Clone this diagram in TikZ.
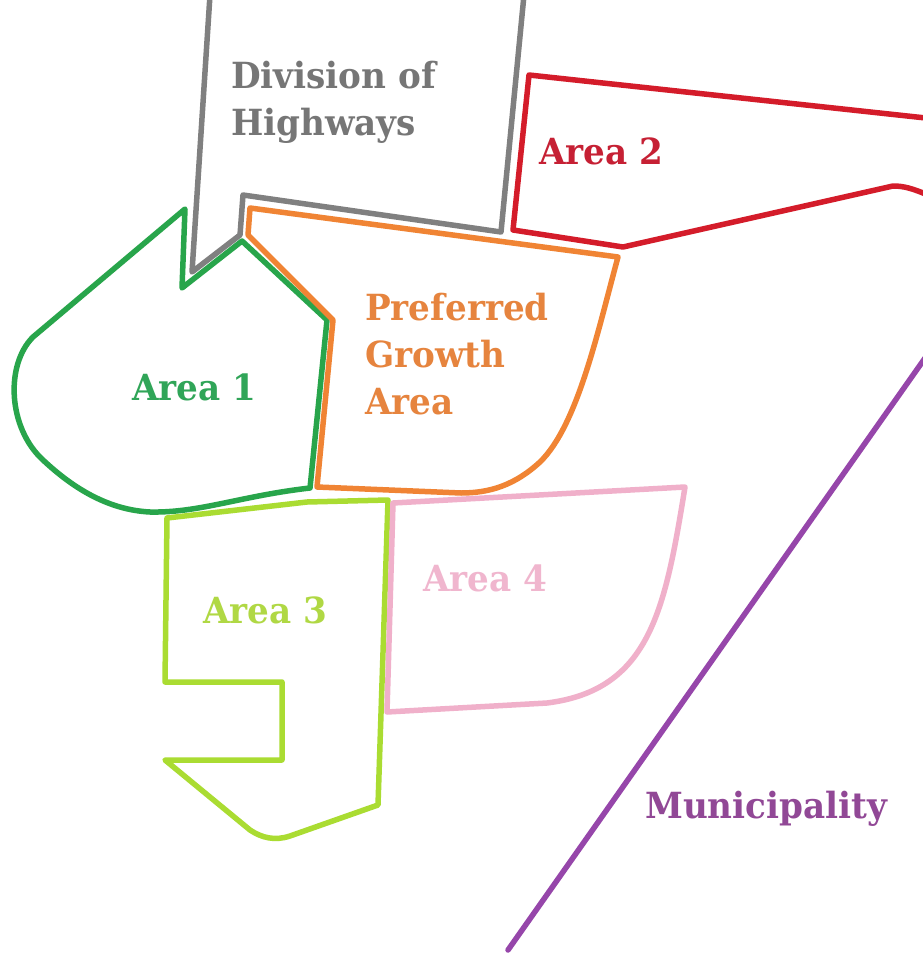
\documentclass[tikz,border=0pt]{standalone}
\usepackage{fontspec}
\newfontfamily\lblfont{DejaVu Serif}[FakeStretch=0.95]
\definecolor{cgray}{RGB}{128,128,128}
\definecolor{cgraytxt}{RGB}{118,118,118}
\definecolor{cred}{RGB}{212,28,42}
\definecolor{credtxt}{RGB}{198,32,52}
\definecolor{corange}{RGB}{240,132,52}
\definecolor{corangetxt}{RGB}{230,132,62}
\definecolor{cgreen}{RGB}{40,165,75}
\definecolor{cgreentxt}{RGB}{48,165,88}
\definecolor{clime}{RGB}{170,220,50}
\definecolor{climetxt}{RGB}{176,216,68}
\definecolor{cpink}{RGB}{240,176,202}
\definecolor{cpinktxt}{RGB}{240,182,206}
\definecolor{cpurple}{RGB}{150,70,170}
\definecolor{cpurpletxt}{RGB}{145,72,150}
\begin{document}
\begin{tikzpicture}[x=1pt,y=-1pt,
  boundary/.style={line width=5.5pt,line join=round,line cap=round},
  lbl/.style={font=\lblfont\bfseries\fontsize{36}{47}\selectfont,inner sep=0pt,align=left,anchor=base west},
  lblml/.style={lbl,anchor=north west}]
\useasboundingbox (0,0) rectangle (922,955);
\fill[white] (0,0) rectangle (922,955);
% Division of Highways
\draw[boundary,cgray] (210,-5) -- (192,272) -- (240,235) -- (243,195) -- (501,232) -- (524,-5);
% Area 2
\draw[boundary,cred] (930,196) .. controls (912,188) and (903,186) .. (893,186) -- (623,247) -- (513,230) -- (529,75) -- (935,119);
% Area 1
\draw[boundary,cgreen] (185,209) -- (182,288) -- (242,241) -- (327,320) -- (310,488)
  .. controls (240,496) and (200,513) .. (150,512)
  .. controls (110,510) and (75,490) .. (43,460)
  .. controls (8,428) and (5,365) .. (33,337) -- cycle;
% Preferred Growth Area
\draw[boundary,corange] (250,208) -- (618,257)
  .. controls (598,330) and (578,425) .. (540,462)
  .. controls (515,485) and (490,493) .. (461,493)
  -- (317,487) -- (333,320) -- (248,235) -- cycle;
% Area 3
\draw[boundary,clime] (167,518) -- (307,502) -- (388,500) -- (378,805) -- (290,836)
  .. controls (275,841) and (262,838) .. (250,830)
  -- (165,760) -- (282,760) -- (282,682) -- (165,682) -- cycle;
% Area 4
\draw[boundary,cpink] (393,503) -- (685,487)
  .. controls (665,610) and (650,690) .. (547,703)
  -- (387,712) -- cycle;
% Municipality
\draw[boundary,cpurple] (930,351) -- (508,950);
% labels
\node[lblml,text=cgraytxt] (hwy) at (231,61) {Division of\\Highways};
\node[lbl,text=credtxt] (a2) at (539,164) {Area 2};
\node[lblml,text=corangetxt] (pga) at (365,293) {Preferred\\Growth\\Area};
\node[lbl,text=cgreentxt] (a1) at (132,400) {Area 1};
\node[lbl,text=climetxt] (a3) at (203,623) {Area 3};
\node[lbl,text=cpinktxt] (a4) at (423,591) {Area 4};
\node[lbl,text=cpurpletxt] (mun) at (645,818) {Municipality};
\end{tikzpicture}
\end{document}
